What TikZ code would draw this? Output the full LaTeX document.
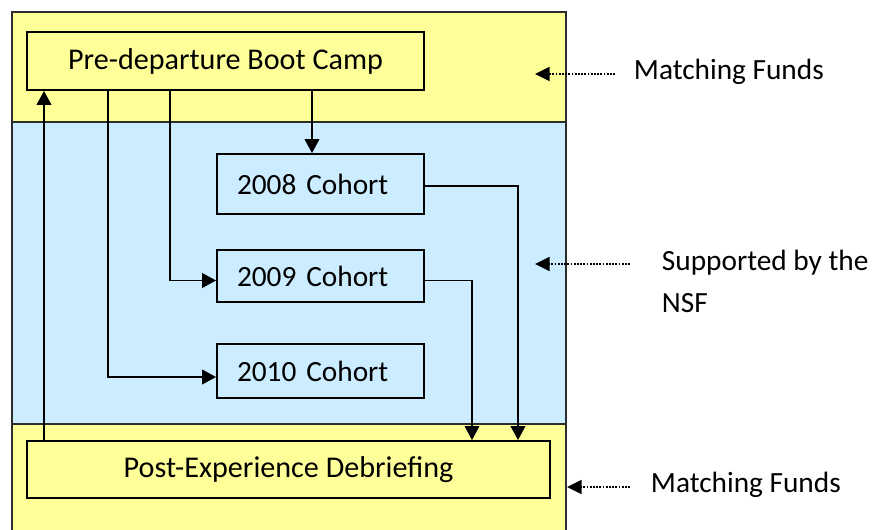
\documentclass[tikz,border=0pt]{standalone}
\usepackage{fontspec}
\setmainfont{Carlito}
\usetikzlibrary{arrows.meta}

\definecolor{fundyellow}{RGB}{255,255,153}
\definecolor{nsfblue}{RGB}{204,236,255}
\definecolor{framegray}{RGB}{45,45,45}

\tikzset{every picture/.style={line width=1.4pt}}

\begin{document}
\begin{tikzpicture}[x=0.75pt,y=0.75pt,yscale=-1,
  stagebox/.style={draw=black, fill=fundyellow, inner sep=0pt, font=\fontsize{22.6}{27}\selectfont},
  cohortbox/.style={draw=black, fill=nsfblue, inner xsep=15pt, inner ysep=0pt, text width=125.25pt, align=left, font=\fontsize{22}{26}\selectfont},
  note/.style={inner sep=0pt, font=\fontsize{22}{31.5}\selectfont},
  flow/.style={-{Triangle[length=10.5pt,width=11pt]}},
  dotarr/.style={densely dotted, -{Triangle[length=11pt,width=10.5pt]}}]
	\useasboundingbox (0,0) rectangle (872,529);

	%Shape: Bands
	\fill[fundyellow] (12,12) rectangle (566,122);
	\fill[nsfblue] (12,122) rectangle (566,424);
	\fill[fundyellow] (12,424) rectangle (566,540);
	\draw[framegray] (12,540) -- (12,12) -- (566,12) -- (566,540);
	\draw[framegray] (12,122) -- (566,122);
	\draw[framegray] (12,424) -- (566,424);

	% Boxes
	\node[stagebox, minimum width=297.75pt, minimum height=43.5pt] (boot) at (225.5,61) {Pre-departure Boot Camp};
	\node[cohortbox, minimum height=45pt] (c2008) at (320.5,184) {2008 Cohort};
	\node[cohortbox, minimum height=39pt] (c2009) at (320.5,276) {2009 Cohort};
	\node[cohortbox, minimum height=40.5pt] (c2010) at (320.5,371) {2010 Cohort};
	\node[stagebox, minimum width=392.25pt, minimum height=42.75pt] (debrief) at (288.5,469.5) {Post-Experience Debriefing};

	% Routing coordinates
	\coordinate (up) at (44,0);
	\coordinate (d10) at (108,0);
	\coordinate (d09) at (170,0);
	\coordinate (d08) at (312,0);
	\coordinate (v09) at (472,0);
	\coordinate (v08) at (518,0);
	\coordinate (r08) at (0,186);
	\coordinate (r09) at (0,280.5);
	\coordinate (r10) at (0,377);

	%Straight Lines
	\draw[flow] (boot.south -| d08) -- (c2008.north -| d08);
	\draw[flow] (boot.south -| d09) |- (c2009.west |- r09);
	\draw[flow] (boot.south -| d10) |- (c2010.west |- r10);
	\draw[flow] (c2008.east |- r08) -| (debrief.north -| v08);
	\draw[flow] (c2009.east |- r09) -| (debrief.north -| v09);
	\draw[flow] (debrief.north -| up) -- (boot.south -| up);

	% Text Node
	\node[note, anchor=base west] (fundtop) at (633,79) {Matching Funds};
	% Text Node
	\node[note, anchor=north west, align=left] (nsf) at (661,249) {Supported by the\\NSF};
	% Text Node
	\node[note, anchor=base west] (fundbot) at (650,492) {Matching Funds};

	% Dotted pointers
	\coordinate (tailT) at (615,74);
	\coordinate (tipT) at (535,74);
	\coordinate (tailM) at (630,264);
	\coordinate (tipM) at (535,264);
	\coordinate (tailB) at (630,487);
	\coordinate (tipB) at (567,487);
	\draw[dotarr] (tailT) -- (tipT);
	\draw[dotarr] (tailM) -- (tipM);
	\draw[dotarr] (tailB) -- (tipB);

\end{tikzpicture}
\end{document}
